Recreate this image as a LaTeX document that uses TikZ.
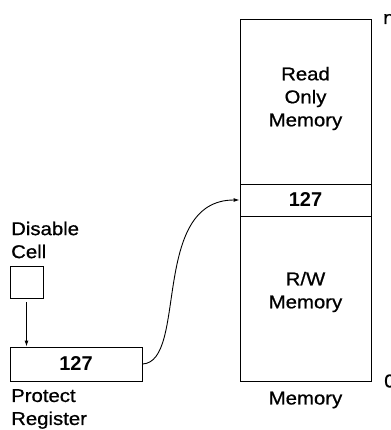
\documentclass[tikz,border=0pt]{standalone}
\usepackage{fontspec}
\setmainfont{Liberation Sans}
\newfontfamily\lblfont[FakeStretch=1.1,FakeBold=0.8]{Liberation Sans}
\usetikzlibrary{arrows.meta}
\begin{document}
\begin{tikzpicture}[x=1pt,y=-1pt,
  box/.style={draw,line width=0.9pt,inner sep=0pt},
  num/.style={font=\fontsize{20}{23}\selectfont\bfseries},
  lbl/.style={font=\lblfont\fontsize{18.5}{23}\selectfont,inner sep=0pt,align=center},
  lbll/.style={font=\lblfont\fontsize{18.5}{23}\selectfont,inner sep=0pt,align=left,anchor=west},
  conn/.style={line width=0.9pt,-{Latex[length=6pt,width=4pt]}}]
\useasboundingbox (0,0) rectangle (390,430);
% memory
\node[box,minimum width=131pt,minimum height=165pt] (rom) at (305.5,101.5) {};
\node[box,num,minimum width=131pt,minimum height=32pt] (row) at (305.5,200) {127};
\node[box,minimum width=131pt,minimum height=165pt] (rw) at (305.5,298.5) {};
\node[lbl] (romt) at (305.5,98.5) {Read\\Only\\Memory};
\node[lbl] (rwt) at (305.5,292) {R/W\\Memory};
\node[lbl] (meml) at (305.5,400) {Memory};
\node[lbl,anchor=west] (nl) at (383,19) {n};
\node[lbl,anchor=west] (zl) at (384,381) {0};
% left side
\node[lbll] (dis) at (11,240) {Disable\\Cell};
\node[box,minimum width=33pt,minimum height=32pt] (cell) at (26.5,282) {};
\node[box,num,minimum width=132pt,minimum height=34pt] (reg) at (76,364) {127};
\node[lbll] (prl) at (11,409) {Protect\\Register};
\draw[conn] ([yshift=-4pt]cell.south) -- (reg.north -| cell.south);
\draw[conn] (reg.east) .. controls (188,362) and (150,200) .. (row.west);
\end{tikzpicture}
\end{document}
